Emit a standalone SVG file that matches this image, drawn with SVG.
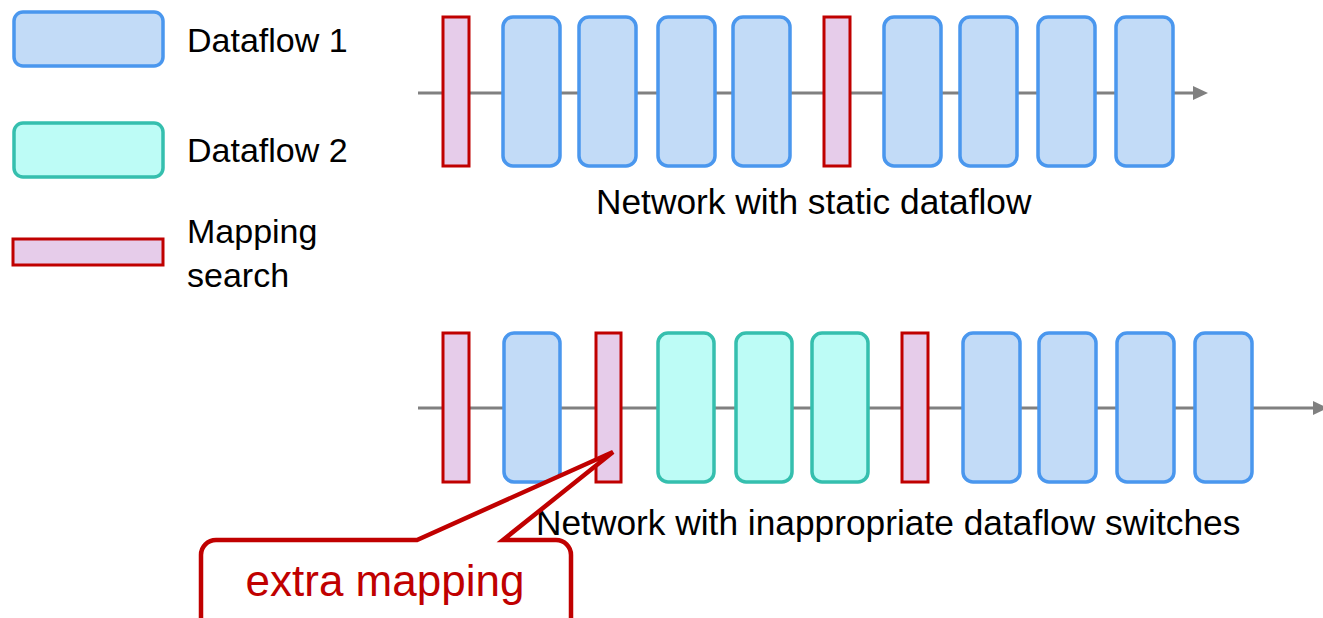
<svg xmlns="http://www.w3.org/2000/svg" width="1323" height="618" viewBox="0 0 1323 618">
  <style>
    .df1 { fill: #C2DBF7; stroke: #4A97EE; stroke-width: 3.5; }
    .df2 { fill: #BDFCF6; stroke: #35BFAE; stroke-width: 3.5; }
    .map { fill: #E6CCEA; stroke: #C00000; stroke-width: 3; }
    .flow { stroke: #808080; stroke-width: 3; fill: none; }
    .lbl { font-family: "Liberation Sans", Arial, sans-serif; font-size: 34px; fill: #000; }
    .cap { font-family: "Liberation Sans", Arial, sans-serif; font-size: 35.3px; fill: #000; }
    .call { fill: #FFFFFF; stroke: #C00000; stroke-width: 4.5; stroke-linejoin: miter; }
    .calltxt { font-family: "Liberation Sans", Arial, sans-serif; font-size: 44px; fill: #C00000; text-anchor: middle; }
  </style>
  <defs>
    <marker id="arrow" markerUnits="userSpaceOnUse" markerWidth="15" markerHeight="14" refX="0" refY="7" orient="auto">
      <path d="M0,0 L15,7 L0,14 Z" fill="#808080"/>
    </marker>
  </defs>

  <rect width="1323" height="618" fill="#FFFFFF"/>

  <!-- legend -->
  <g id="legend-dataflow1">
    <rect class="df1" x="14" y="12" width="149" height="54" rx="9"/>
    <text class="lbl" x="187" y="52">Dataflow 1</text>
  </g>
  <g id="legend-dataflow2">
    <rect class="df2" x="14" y="123" width="149" height="54" rx="9"/>
    <text class="lbl" x="187" y="162">Dataflow 2</text>
  </g>
  <g id="legend-mapping">
    <rect class="map" x="13" y="239" width="150" height="26"/>
    <text class="lbl" x="187" y="243">Mapping</text>
    <text class="lbl" x="187" y="287">search</text>
  </g>

  <!-- flow lines -->
  <g id="connectors">
    <line class="flow" x1="418" y1="93" x2="1193" y2="93" marker-end="url(#arrow)"/>
    <line class="flow" x1="418" y1="408" x2="1313" y2="408" marker-end="url(#arrow)"/>
  </g>

  <!-- network with static dataflow -->
  <g id="static-row">
    <rect id="s-map1" class="map" x="443" y="17" width="26" height="149"/>
    <rect id="s-l1" class="df1" x="503" y="17" width="57" height="149" rx="10"/>
    <rect id="s-l2" class="df1" x="579" y="17" width="57" height="149" rx="10"/>
    <rect id="s-l3" class="df1" x="658" y="17" width="57" height="149" rx="10"/>
    <rect id="s-l4" class="df1" x="733" y="17" width="57" height="149" rx="10"/>
    <rect id="s-map2" class="map" x="824" y="17" width="26" height="149"/>
    <rect id="s-l5" class="df1" x="884" y="17" width="57" height="149" rx="10"/>
    <rect id="s-l6" class="df1" x="960" y="17" width="57" height="149" rx="10"/>
    <rect id="s-l7" class="df1" x="1038" y="17" width="57" height="149" rx="10"/>
    <rect id="s-l8" class="df1" x="1116" y="17" width="57" height="149" rx="10"/>
    <text class="cap" x="596" y="214">Network with static dataflow</text>
  </g>

  <!-- network with inappropriate dataflow switches -->
  <g id="switch-row">
    <rect id="w-map1" class="map" x="443" y="333" width="26" height="149"/>
    <rect id="w-l1" class="df1" x="504" y="333" width="56" height="149" rx="10"/>
    <rect id="w-map2" class="map" x="596" y="333" width="25" height="149"/>
    <rect id="w-l2" class="df2" x="658" y="333" width="56" height="149" rx="10"/>
    <rect id="w-l3" class="df2" x="736" y="333" width="56" height="149" rx="10"/>
    <rect id="w-l4" class="df2" x="812" y="333" width="56" height="149" rx="10"/>
    <rect id="w-map3" class="map" x="902" y="333" width="26" height="149"/>
    <rect id="w-l5" class="df1" x="963" y="333" width="57" height="149" rx="10"/>
    <rect id="w-l6" class="df1" x="1039" y="333" width="57" height="149" rx="10"/>
    <rect id="w-l7" class="df1" x="1117" y="333" width="57" height="149" rx="10"/>
    <rect id="w-l8" class="df1" x="1195" y="333" width="57" height="149" rx="10"/>
    <text class="cap" x="536" y="535">Network with inappropriate dataflow switches</text>
  </g>

  <!-- callout -->
  <g id="callout-extra-mapping">
    <path class="call" d="M216,540 L417,540 L613,452 L503,540 L556,540 A15,15 0 0 1 571,555 L571,640 L201,640 L201,555 A15,15 0 0 1 216,540 Z"/>
    <text class="calltxt" x="385" y="596">extra mapping</text>
  </g>
</svg>
